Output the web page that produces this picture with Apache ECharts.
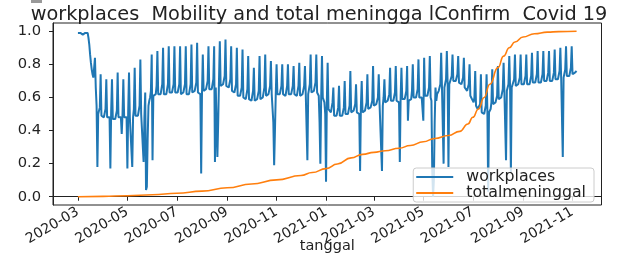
<!DOCTYPE html>
<html>
<head>
<meta charset="utf-8">
<script src="https://cdn.jsdelivr.net/npm/echarts@6/dist/echarts.min.js"></script>
<style>
  html, body { margin: 0; padding: 0; background: #fff; }
  #chart { width: 622px; height: 258px; }
</style>
</head>
<body>
<div id="chart"></div>
<script>
// daily workplaces mobility (normalized), one row per week, first day 2020-03-01 (Sunday)
var startDate = '2020-03-01'
var workplaces = [
  0.99, 0.98, 0.99, 0.99, 1.00, 0.99, 0.98,
  0.97, 0.99, 0.99, 1.00, 0.99, 0.99, 0.96,
  0.92, 0.86, 0.81, 0.77, 0.74, 0.72, 0.71,
  0.84, 0.66, 0.55, 0.18, 0.50, 0.49, 0.54,
  0.74, 0.49, 0.48, 0.48, 0.48, 0.47, 0.53,
  0.71, 0.48, 0.48, 0.47, 0.48, 0.17, 0.52,
  0.71, 0.47, 0.47, 0.48, 0.47, 0.47, 0.52,
  0.75, 0.48, 0.47, 0.47, 0.48, 0.38, 0.50,
  0.71, 0.48, 0.48, 0.47, 0.48, 0.17, 0.52,
  0.75, 0.48, 0.49, 0.48, 0.18, 0.48, 0.53,
  0.78, 0.49, 0.49, 0.50, 0.49, 0.49, 0.55,
  0.83, 0.50, 0.51, 0.50, 0.21, 0.48, 0.63,
  0.04, 0.06, 0.35, 0.55, 0.58, 0.60, 0.64,
  0.86, 0.22, 0.61, 0.61, 0.62, 0.62, 0.67,
  0.88, 0.62, 0.62, 0.61, 0.62, 0.62, 0.68,
  0.90, 0.62, 0.62, 0.63, 0.62, 0.62, 0.68,
  0.91, 0.63, 0.62, 0.63, 0.63, 0.62, 0.68,
  0.91, 0.63, 0.63, 0.62, 0.63, 0.63, 0.68,
  0.91, 0.62, 0.62, 0.62, 0.63, 0.62, 0.68,
  0.91, 0.62, 0.63, 0.62, 0.62, 0.62, 0.68,
  0.92, 0.63, 0.63, 0.63, 0.64, 0.63, 0.69,
  0.93, 0.63, 0.64, 0.63, 0.62, 0.14, 0.62,
  0.86, 0.64, 0.64, 0.64, 0.65, 0.64, 0.70,
  0.91, 0.65, 0.65, 0.66, 0.65, 0.65, 0.71,
  0.91, 0.21, 0.66, 0.66, 0.24, 0.45, 0.71,
  0.94, 0.67, 0.67, 0.67, 0.68, 0.67, 0.73,
  0.95, 0.67, 0.67, 0.66, 0.66, 0.65, 0.71,
  0.91, 0.64, 0.64, 0.63, 0.63, 0.62, 0.68,
  0.90, 0.61, 0.61, 0.60, 0.61, 0.60, 0.66,
  0.89, 0.60, 0.60, 0.60, 0.59, 0.59, 0.65,
  0.85, 0.59, 0.59, 0.58, 0.58, 0.58, 0.64,
  0.78, 0.58, 0.58, 0.58, 0.59, 0.58, 0.64,
  0.85, 0.59, 0.59, 0.60, 0.60, 0.60, 0.66,
  0.86, 0.61, 0.61, 0.61, 0.62, 0.61, 0.67,
  0.82, 0.62, 0.62, 0.45, 0.19, 0.40, 0.62,
  0.80, 0.62, 0.62, 0.62, 0.62, 0.62, 0.67,
  0.80, 0.62, 0.62, 0.62, 0.61, 0.62, 0.67,
  0.80, 0.62, 0.62, 0.61, 0.62, 0.62, 0.67,
  0.79, 0.62, 0.62, 0.62, 0.61, 0.61, 0.67,
  0.81, 0.61, 0.61, 0.61, 0.62, 0.61, 0.67,
  0.79, 0.62, 0.62, 0.22, 0.62, 0.62, 0.68,
  0.86, 0.63, 0.63, 0.63, 0.64, 0.63, 0.69,
  0.86, 0.63, 0.62, 0.61, 0.45, 0.20, 0.60,
  0.85, 0.60, 0.59, 0.57, 0.50, 0.09, 0.58,
  0.81, 0.53, 0.52, 0.52, 0.51, 0.51, 0.57,
  0.66, 0.49, 0.49, 0.49, 0.49, 0.48, 0.54,
  0.67, 0.49, 0.49, 0.49, 0.49, 0.49, 0.54,
  0.70, 0.50, 0.50, 0.50, 0.50, 0.50, 0.55,
  0.76, 0.51, 0.51, 0.51, 0.52, 0.51, 0.56,
  0.68, 0.51, 0.51, 0.51, 0.50, 0.155, 0.55,
  0.70, 0.51, 0.52, 0.52, 0.52, 0.52, 0.57,
  0.74, 0.53, 0.53, 0.53, 0.54, 0.53, 0.58,
  0.79, 0.55, 0.55, 0.55, 0.56, 0.55, 0.60,
  0.74, 0.56, 0.56, 0.56, 0.155, 0.55, 0.60,
  0.71, 0.57, 0.57, 0.57, 0.58, 0.57, 0.62,
  0.78, 0.58, 0.58, 0.58, 0.58, 0.58, 0.63,
  0.79, 0.58, 0.58, 0.58, 0.57, 0.21, 0.60,
  0.78, 0.59, 0.59, 0.59, 0.59, 0.59, 0.64,
  0.79, 0.46, 0.58, 0.59, 0.59, 0.59, 0.64,
  0.80, 0.60, 0.60, 0.60, 0.60, 0.60, 0.65,
  0.83, 0.60, 0.60, 0.61, 0.60, 0.60, 0.46,
  0.84, 0.61, 0.61, 0.61, 0.61, 0.60, 0.66,
  0.85, 0.60, 0.58, 0.16, 0.00, 0.10, 0.45,
  0.66, 0.58, 0.62, 0.63, 0.64, 0.64, 0.68,
  0.87, 0.66, 0.66, 0.20, 0.66, 0.66, 0.71,
  0.88, 0.68, 0.18, 0.68, 0.69, 0.69, 0.73,
  0.86, 0.70, 0.70, 0.70, 0.70, 0.69, 0.74,
  0.85, 0.69, 0.69, 0.68, 0.68, 0.67, 0.72,
  0.84, 0.66, 0.65, 0.65, 0.64, 0.63, 0.68,
  0.80, 0.61, 0.60, 0.59, 0.58, 0.57, 0.60,
  0.76, 0.55, 0.54, 0.53, 0.53, 0.52, 0.56,
  0.74, 0.51, 0.51, 0.51, 0.50, 0.50, 0.55,
  0.74, 0.52, 0.03, 0.51, 0.52, 0.53, 0.57,
  0.77, 0.56, 0.56, 0.56, 0.57, 0.57, 0.61,
  0.79, 0.59, 0.59, 0.60, 0.60, 0.60, 0.65,
  0.81, 0.63, 0.63, 0.22, 0.64, 0.64, 0.68,
  0.85, 0.66, 0.15, 0.66, 0.67, 0.67, 0.71,
  0.86, 0.67, 0.67, 0.67, 0.68, 0.67, 0.72,
  0.86, 0.68, 0.68, 0.68, 0.68, 0.68, 0.73,
  0.86, 0.68, 0.68, 0.69, 0.68, 0.68, 0.73,
  0.87, 0.69, 0.69, 0.69, 0.69, 0.69, 0.74,
  0.88, 0.69, 0.69, 0.70, 0.69, 0.69, 0.74,
  0.88, 0.70, 0.70, 0.70, 0.70, 0.70, 0.75,
  0.88, 0.70, 0.70, 0.71, 0.70, 0.70, 0.75,
  0.89, 0.71, 0.71, 0.71, 0.71, 0.71, 0.76,
  0.90, 0.72, 0.72, 0.24, 0.72, 0.72, 0.77,
  0.91, 0.73, 0.73, 0.73, 0.73, 0.73, 0.78,
  0.91, 0.74, 0.74, 0.74, 0.75, 0.75, 0.76
]

// cumulative deaths (normalized), read at these dates
var deathDates = [
  '2020-03-01', '2020-04-01', '2020-05-01', '2020-06-01', '2020-07-01', '2020-08-01',
  '2020-09-01', '2020-10-01', '2020-11-01', '2020-12-01', '2020-12-15', '2021-01-01',
  '2021-01-15', '2021-02-01', '2021-02-15', '2021-03-01', '2021-03-15', '2021-04-01',
  '2021-04-15', '2021-05-01', '2021-05-15', '2021-06-01', '2021-06-15', '2021-06-25',
  '2021-07-01', '2021-07-08', '2021-07-15', '2021-07-22', '2021-08-01', '2021-08-08',
  '2021-08-15', '2021-08-22', '2021-09-01', '2021-09-15', '2021-10-01', '2021-10-15',
  '2021-11-06'
]
var totalMeninggal = [
  0.000, 0.002, 0.006, 0.012, 0.021, 0.034,
  0.054, 0.077, 0.102, 0.128, 0.146, 0.170,
  0.198, 0.235, 0.256, 0.268, 0.278, 0.293,
  0.310, 0.332, 0.352, 0.370, 0.395, 0.440,
  0.480, 0.530, 0.600, 0.680, 0.780, 0.850,
  0.900, 0.935, 0.965, 0.985, 0.995, 0.998,
  1.000
]

var xTickLabels = ['2020-03', '2020-05', '2020-07', '2020-09', '2020-11', '2021-01',
  '2021-03', '2021-05', '2021-07', '2021-09', '2021-11']
var yTickValues = [0, 0.2, 0.4, 0.6, 0.8, 1.0]

var DAY = 86400000
var t0 = Date.parse(startDate)
var wpData = workplaces.map(function(v, i) { return [t0 + i * DAY, v] })
var tmData = deathDates.map(function(d, i) { return [Date.parse(d), totalMeninggal[i]] })
var xTicks = xTickLabels.map(function(s) { return Date.parse(s + '-01') })

// matplotlib style 5% margins around the data range
var tEnd = t0 + (workplaces.length - 1) * DAY
var pad = (tEnd - t0) * 0.05

function monthLabel(v) {
  var d = new Date(v)
  var m = d.getUTCMonth() + 1
  return d.getUTCFullYear() + '-' + (m < 10 ? '0' + m : m)
}

var ink = '#222'
var chart = echarts.init(document.getElementById('chart'))

chart.setOption({
  animation: false,
  backgroundColor: '#fff',
  textStyle: { fontFamily: 'DejaVu Sans' },
  grid: {
    left: 53,
    right: 20.5,
    top: 23,
    bottom: 53,
    containLabel: false,
    outerBoundsMode: 'none',
    show: true,
    borderColor: ink,
    borderWidth: 1
  },
  graphic: [
    {
      type: 'rect',
      shape: { x: 31, y: 0, width: 11, height: 3 },
      style: { fill: '#999' }
    },
    {
      type: 'text',
      x: 319,
      y: 15,
      style: {
        text: 'workplaces  Mobility and total meningga lConfirm  Covid 19',
        fill: ink,
        font: '19.3px "DejaVu Sans"',
        textAlign: 'center',
        textVerticalAlign: 'middle'
      }
    }
  ],
  legend: {
    orient: 'vertical',
    right: 28,
    bottom: 56,
    icon: 'rect',
    itemWidth: 37,
    itemHeight: 2,
    itemGap: 0,
    padding: [1, 8, 1, 3],
    borderColor: '#ccc',
    borderWidth: 1,
    borderRadius: 3,
    backgroundColor: 'rgba(255,255,255,0.8)',
    textStyle: { fontSize: 15.8, color: ink, lineHeight: 15, padding: [0, 0, 0, 8] },
    data: ['workplaces', 'totalmeninggal']
  },
  xAxis: {
    type: 'value',
    min: t0 - pad,
    max: tEnd + pad,
    name: 'tanggal',
    nameLocation: 'middle',
    nameGap: 34,
    nameMoveOverlap: false,
    nameTextStyle: { fontSize: 14.5, color: ink, verticalAlign: 'top' },
    splitLine: { show: false },
    axisLine: { show: true, lineStyle: { color: ink } },
    axisTick: { show: true, length: 4, lineStyle: { color: ink }, customValues: xTicks },
    axisLabel: {
      customValues: xTicks,
      rotate: 30,
      margin: 6,
      fontSize: 14,
      color: ink,
      formatter: monthLabel
    }
  },
  yAxis: {
    type: 'value',
    min: -0.05,
    max: 1.05,
    splitLine: { show: false },
    axisLine: { show: true, lineStyle: { color: ink } },
    axisTick: { show: true, length: 4, lineStyle: { color: ink }, customValues: yTickValues },
    axisLabel: {
      customValues: yTickValues,
      margin: 12,
      fontSize: 14.7,
      color: ink,
      formatter: function(v) { return v.toFixed(1) }
    }
  },
  series: [
    {
      name: 'workplaces',
      type: 'line',
      data: wpData,
      symbol: 'none',
      color: '#1f77b4',
      lineStyle: { width: 2, color: '#1f77b4' }
    },
    {
      name: 'totalmeninggal',
      type: 'line',
      data: tmData,
      symbol: 'none',
      smooth: 0.5,
      smoothMonotone: 'x',
      color: '#ff7f0e',
      lineStyle: { width: 1.6, color: '#ff7f0e' }
    }
  ]
})
</script>
</body>
</html>
